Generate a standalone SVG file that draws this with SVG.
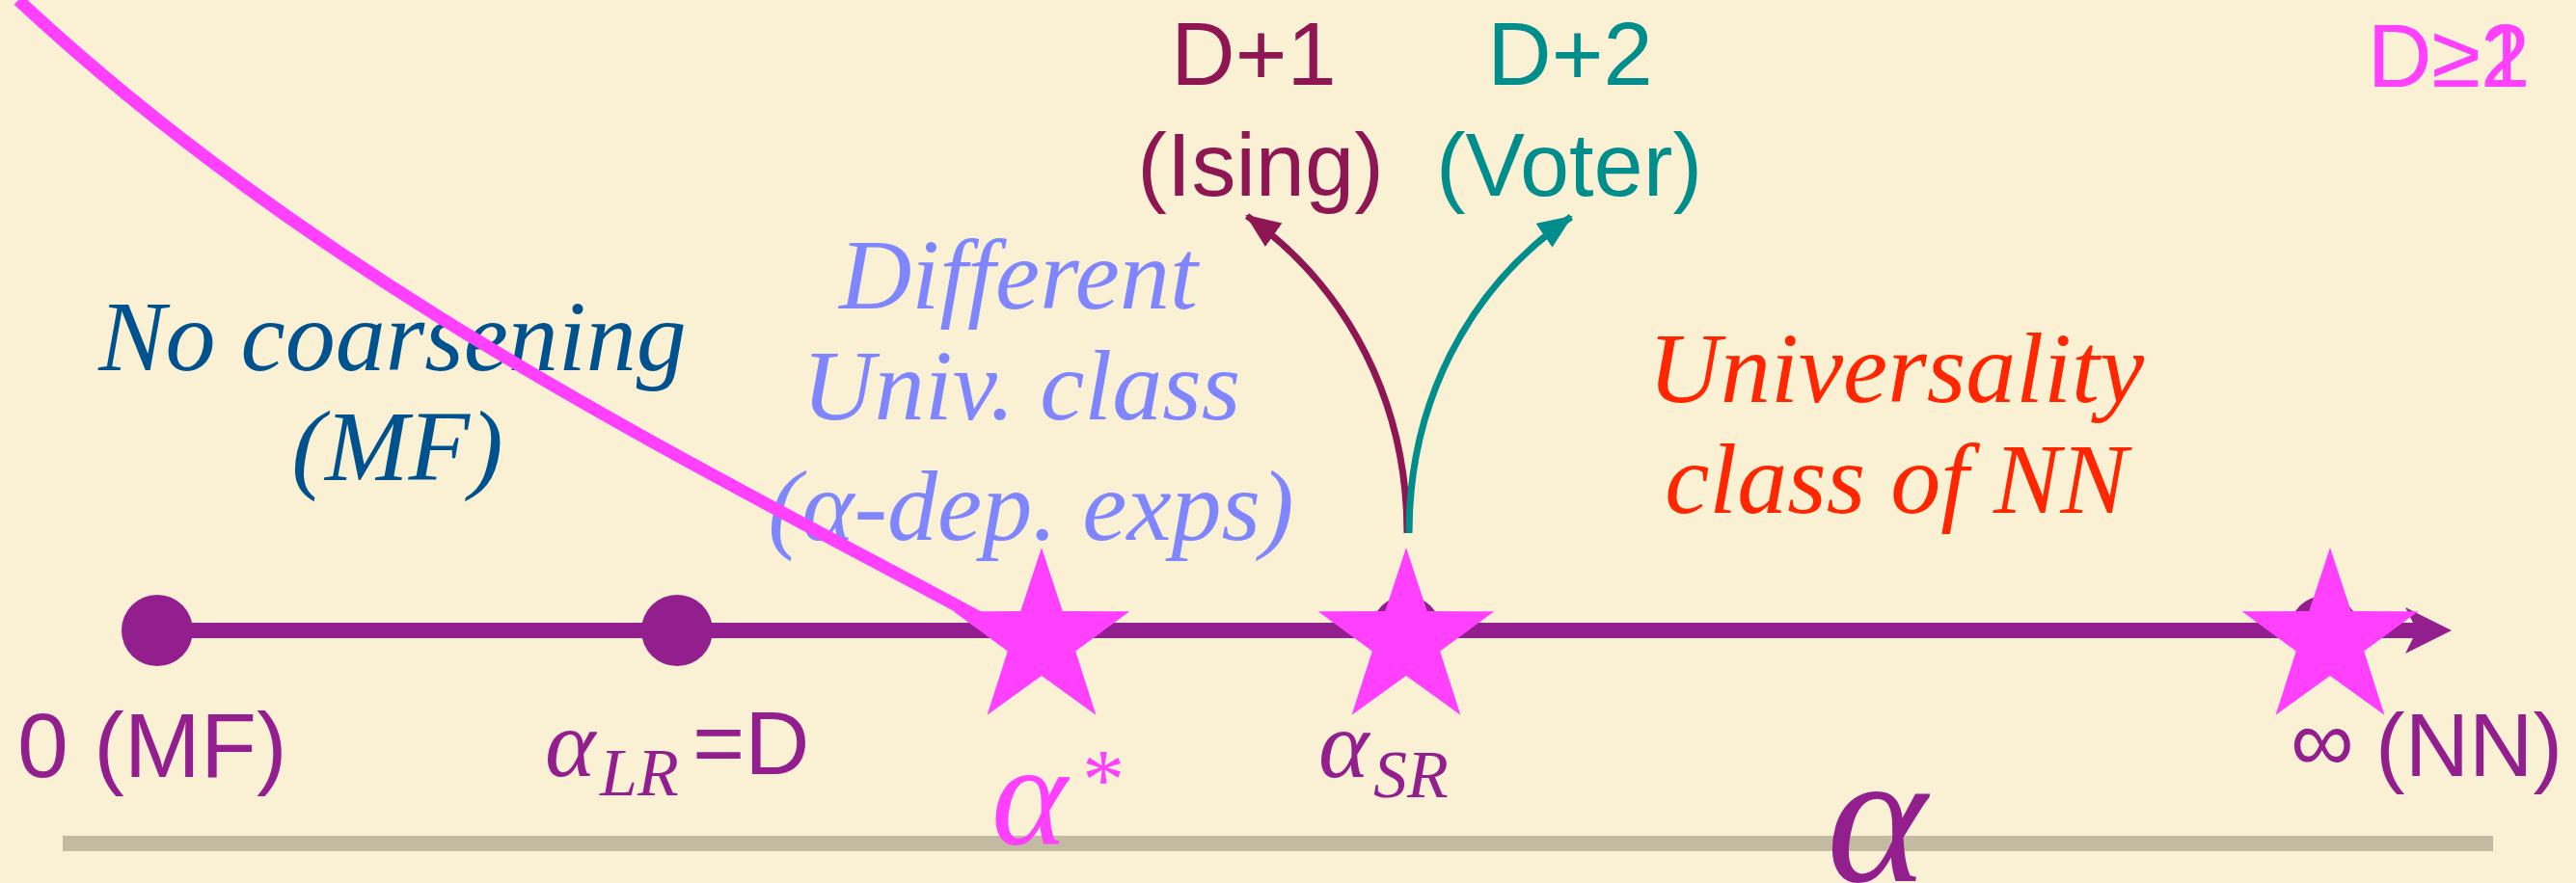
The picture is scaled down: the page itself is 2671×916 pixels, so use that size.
<svg xmlns="http://www.w3.org/2000/svg" width="2671" height="916" viewBox="0 0 2671 916">
<defs>
<style>
.serif{font-family:"Liberation Serif","DejaVu Serif",serif;font-style:italic}
.sans{font-family:"Liberation Sans","Open Sans","DejaVu Sans",sans-serif}
.purple{fill:#931F8F}
.magenta{fill:#FF40FF}
.star{fill:#FF40FF}
.dot{fill:#931F8F}
</style>
<path id="star" d="M0,-96 L21.75,-29.93 L91.3,-29.7 L35.19,11.43 L56.43,77.67 L0,37 L-56.43,77.67 L-35.19,11.43 L-91.3,-29.7 L-21.75,-29.93 Z"/>
<marker id="ahM" markerUnits="userSpaceOnUse" markerWidth="38" markerHeight="32" refX="34" refY="15" orient="auto">
<path d="M0,0 L36,15 L0,30 Z" fill="#8E1652"/>
</marker>
<marker id="ahT" markerUnits="userSpaceOnUse" markerWidth="38" markerHeight="32" refX="34" refY="15" orient="auto">
<path d="M0,0 L36,15 L0,30 Z" fill="#008E8C"/>
</marker>
</defs>
<rect width="2671" height="916" fill="#FAF1D4"/>
<rect id="baseline-bar" x="65" y="867" width="2520" height="16" fill="#C2BBA2"/>

<g id="region-labels">
<g id="no-coarsening" class="serif" fill="#00528F" font-size="104" text-anchor="middle">
<text x="407" y="384">No coarsening</text>
<text x="412" y="498">(MF)</text>
</g>
<g id="different-class" class="serif" fill="#7F86FF" font-size="104" text-anchor="middle">
<text x="1056" y="320">Different</text>
<text x="1059" y="435">Univ. class</text>
<text x="1069" y="560">(α-dep. exps)</text>
</g>
<g id="nn-class" class="serif" fill="#FF2600" font-size="104" text-anchor="middle">
<text x="1966" y="417">Universality</text>
<text x="1966" y="532">class of NN</text>
</g>
<g id="ising" class="sans" fill="#8E1652" font-size="92" text-anchor="middle">
<text x="1300" y="88">D+1</text>
<text x="1307" y="203">(Ising)</text>
</g>
<g id="voter" class="sans" fill="#008E8C" font-size="92" text-anchor="middle">
<text x="1628" y="88">D+2</text>
<text x="1627" y="203">(Voter)</text>
</g>
<g id="dim-label" class="sans magenta" font-size="92">
<text x="2455" y="90">D≥1</text>
<text x="2455" y="90">D≥2</text>
</g>
</g>

<g id="axis">
<line x1="163" y1="654" x2="2508" y2="654" stroke="#931F8F" stroke-width="16"/>
<polygon points="2494,630 2542,654 2494,678 2506,654" fill="#931F8F"/>
</g>

<g id="axis-labels">
<text class="sans purple" x="18" y="806" font-size="95">0 (MF)</text>
<g id="alpha-lr">
<text class="serif purple" x="565" y="805" font-size="100">α</text>
<text class="serif purple" x="622" y="825" font-size="70">LR</text>
<text class="sans purple" x="718" y="803" font-size="93">=D</text>
</g>
<g id="alpha-star">
<text class="serif magenta" x="1028" y="876" font-size="150">α</text>
<text class="serif magenta" x="1118" y="838" font-size="88">*</text>
</g>
<g id="alpha-sr">
<text class="serif purple" x="1367" y="806" font-size="100">α</text>
<text class="serif purple" x="1424" y="827" font-size="70">SR</text>
</g>
<g id="infinity">
<text class="sans purple" x="2375" y="800" font-size="92">∞</text>
<text class="sans purple" x="2463" y="805" font-size="92">(NN)</text>
</g>
<text id="alpha-axis" class="serif purple" x="1946" y="914" font-size="198" text-anchor="middle">α</text>
</g>

<g id="connectors" fill="none">
<path id="flow-curve" d="M19,0 C340,300 720,480 1062,666" stroke="#FF40FF" stroke-width="13"/>
<path id="to-ising" d="M1459,553 C1459,420 1400,300 1293,224" stroke="#8E1652" stroke-width="7" marker-end="url(#ahM)"/>
<path id="to-voter" d="M1461,553 C1461,420 1520,300 1629,225" stroke="#008E8C" stroke-width="7" marker-end="url(#ahT)"/>
</g>

<g id="node-mf"><circle class="dot" cx="163" cy="654" r="37"/></g>
<g id="node-lr"><circle class="dot" cx="702" cy="654" r="37"/></g>
<g id="node-sr"><circle class="dot" cx="1458" cy="654" r="36"/><use href="#star" class="star" x="1458" y="664"/></g>
<g id="node-nn"><circle class="dot" cx="2410" cy="654" r="36"/><use href="#star" class="star" x="2416" y="664"/></g>
<g id="node-astar"><use href="#star" class="star" x="1080" y="664"/></g>
</svg>
